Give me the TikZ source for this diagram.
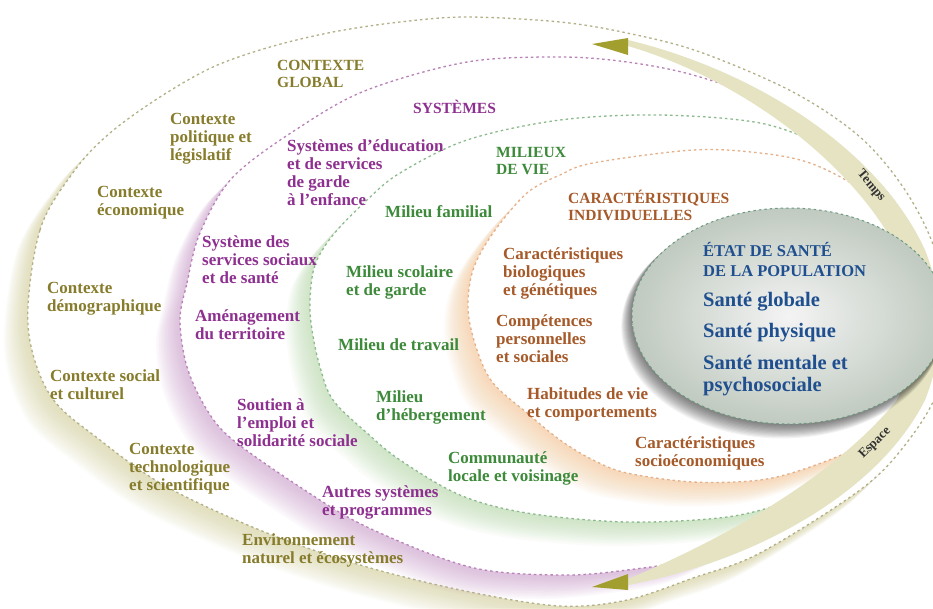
\documentclass[tikz,border=0pt]{standalone}
\usepackage{fontspec}
\setmainfont{Liberation Serif}
\definecolor{olvT}{HTML}{877C2C}
\definecolor{purT}{HTML}{8E3090}
\definecolor{grnT}{HTML}{3D8A3A}
\definecolor{brnT}{HTML}{A65A2A}
\definecolor{bluT}{HTML}{1F4F8F}
\definecolor{olvD}{HTML}{B3B088}
\definecolor{purD}{HTML}{B882B8}
\definecolor{grnD}{HTML}{8CBA8C}
\definecolor{orgD}{HTML}{E4B08A}
\definecolor{olvG}{HTML}{D6D29C}
\definecolor{purG}{HTML}{CFA2CF}
\definecolor{grnG}{HTML}{B8DAAA}
\definecolor{orgG}{HTML}{F7C896}
\definecolor{swc}{HTML}{E5E3C2}
\definecolor{arh}{HTML}{A39F2F}
\definecolor{gryD}{HTML}{6A9A80}
\newcommand\outerP{plot[smooth cycle,tension=0.55] coordinates {(28,325) (40,230) (75,170) (110,133) (160,97) (213,67) (270,47) (333,32) (400,22) (467,17) (560,22) (627,33) (700,52) (793,92) (860,137) (905,190) (935,250) (948,320) (938,390) (905,445) (860,490) (760,553) (693,578) (627,600) (560,606) (470,592) (367,567) (267,533) (167,487) (100,440) (50,395)}}
\newcommand\purP{plot[smooth cycle,tension=0.55] coordinates {(180,320) (187,283) (200,233) (233,177) (300,127) (367,90) (467,62) (560,57) (627,62) (693,75) (760,100) (830,150) (880,215) (905,280) (912,340) (898,400) (860,450) (800,500) (760,525) (693,558) (627,570) (560,575) (470,567) (367,527) (300,487) (233,440) (207,410) (187,367)}}
\newcommand\grnP{plot[smooth cycle,tension=0.55] coordinates {(310,300) (315,265) (333,235) (367,200) (400,173) (467,140) (560,120) (660,115) (760,123) (827,147) (865,170) (900,210) (920,270) (925,340) (905,410) (870,455) (843,478) (793,500) (727,517) (627,522) (527,513) (460,495) (400,460) (367,433) (333,400) (320,367) (312,330)}}
\newcommand\orgP{plot[smooth cycle,tension=0.55] coordinates {(468,310) (473,270) (493,233) (527,193) (560,175) (593,163) (693,150) (760,153) (810,163) (857,187) (895,220) (915,280) (915,350) (895,410) (860,445) (810,467) (760,480) (693,482) (627,473) (593,460) (560,440) (527,413) (493,383) (477,350)}}
\begin{document}
\begin{tikzpicture}[x=1pt,y=-1pt,
  tx/.style={anchor=north west, inner sep=0pt, align=left, font=\bfseries\fontsize{17}{18}\selectfont},
  hd/.style={anchor=north west, inner sep=0pt, align=left, font=\bfseries\fontsize{15.5}{17}\selectfont},
  dsh/.style={line width=1.3pt, dash pattern=on 2.5pt off 3pt},
  glw/.style={opacity=0.055},
  lbl/.style={inner sep=0pt, text=black!80, font=\bfseries\fontsize{13}{13}\selectfont}
]
\useasboundingbox (0,0) rectangle (933,608);
\clip (0,0) rectangle (933,608);
\fill[white] (0,0) rectangle (933,608);
% glows and fills
\foreach \i in {1,...,16} {\fill[olvG, glw, shift={(-1.5*\i,1.5*\i)}] \outerP;}
\fill[white] \outerP;
\foreach \i in {1,...,16} {\fill[purG, glw, shift={(-1.5*\i,1.5*\i)}] \purP;}
\fill[white] \purP;
\foreach \i in {1,...,16} {\fill[grnG, glw, shift={(-1.5*\i,1.5*\i)}] \grnP;}
\fill[white] \grnP;
\foreach \i in {1,...,16} {\fill[orgG, glw, shift={(-1.5*\i,1.5*\i)}] \orgP;}
\fill[white] \orgP;
% dashed contours
\draw[dsh, olvD] \outerP;
\draw[dsh, purD] \purP;
\draw[dsh, grnD] \grnP;
\draw[dsh, orgD] \orgP;
% swoosh
\fill[swc] (628,40) .. controls (760,72) and (880,152) .. (925,250) .. controls (945,300) and (945,350) .. (925,400) .. controls (880,490) and (760,560) .. (628,585) -- (628,579) .. controls (740,532) and (840,470) .. (897,400) .. controls (917,360) and (922,310) .. (902,260) .. controls (862,172) and (750,82) .. (628,46) -- cycle;
\fill[arh] (592,44) -- (628,38) -- (628,55) -- cycle;
\fill[arh] (592,587) -- (628,574) -- (628,590) -- cycle;
\node[lbl, rotate=-50] (temps) at (871,186) {Temps};
\node[lbl, rotate=45] (espace) at (875,443) {Espace};
% health ellipse
\foreach \i in {1,...,12} {\fill[black, opacity=0.05] (789-0.6*\i,316+0.9*\i) ellipse [x radius=157+0.3*\i, y radius=108+0.3*\i];}
\shade[inner color=white!70!gray!30, outer color={rgb,255:red,192;green,202;blue,192}] (789,316) ellipse [x radius=157, y radius=108];
\draw[dsh, gryD, line width=1pt] (789,316) ellipse [x radius=157, y radius=108];
% texts: contexte global
\node[hd, text=olvT] (cg) at (277,60) {CONTEXTE\\GLOBAL};
\node[tx, text=olvT] (c1) at (170,113) {Contexte\\politique et\\législatif};
\node[tx, text=olvT] (c2) at (97,186) {Contexte\\économique};
\node[tx, text=olvT] (c3) at (47,282) {Contexte\\démographique};
\node[tx, text=olvT] (c4) at (50,369) {Contexte social\\et culturel};
\node[tx, text=olvT] (c5) at (129,443) {Contexte\\technologique\\et scientifique};
\node[tx, text=olvT] (c6) at (242,533) {Environnement\\naturel et écosystèmes};
% systemes
\node[hd, text=purT] (sy) at (413,100) {SYSTÈMES};
\node[tx, text=purT] (s1) at (287,139) {Systèmes d’éducation\\et de services\\de garde\\à l’enfance};
\node[tx, text=purT] (s2) at (202,235) {Système des\\services sociaux\\et de santé};
\node[tx, text=purT] (s3) at (195,309) {Aménagement\\du territoire};
\node[tx, text=purT] (s4) at (237,398) {Soutien à\\l’emploi et\\solidarité sociale};
\node[tx, text=purT] (s5) at (322,485) {Autres systèmes\\et programmes};
% milieux de vie
\node[hd, text=grnT] (mv) at (496,147) {MILIEUX\\DE VIE};
\node[tx, text=grnT] (m1) at (385,205) {Milieu familial};
\node[tx, text=grnT] (m2) at (346,265) {Milieu scolaire\\et de garde};
\node[tx, text=grnT] (m3) at (338,338) {Milieu de travail};
\node[tx, text=grnT] (m4) at (376,390) {Milieu\\d’hébergement};
\node[tx, text=grnT] (m5) at (448,451) {Communauté\\locale et voisinage};
% caracteristiques individuelles
\node[hd, text=brnT] (ci) at (568,190) {CARACTÉRISTIQUES\\INDIVIDUELLES};
\node[tx, text=brnT] (i1) at (503,247) {Caractéristiques\\biologiques\\et génétiques};
\node[tx, text=brnT] (i2) at (496,314) {Compétences\\personnelles\\et sociales};
\node[tx, text=brnT] (i3) at (527,387) {Habitudes de vie\\et comportements};
\node[tx, text=brnT] (i4) at (635,436) {Caractéristiques\\socioéconomiques};
% etat de sante
\node[anchor=north west, inner sep=0pt, align=left, text=bluT, font=\bfseries\fontsize{16.5}{20}\selectfont] (es) at (703,242) {ÉTAT DE SANTÉ\\DE LA POPULATION};
\node[anchor=north west, inner sep=0pt, align=left, text=bluT, font=\bfseries\fontsize{20.5}{22}\selectfont] (e1) at (703,292) {Santé globale};
\node[anchor=north west, inner sep=0pt, align=left, text=bluT, font=\bfseries\fontsize{20.5}{22}\selectfont] (e2) at (703,323) {Santé physique};
\node[anchor=north west, inner sep=0pt, align=left, text=bluT, font=\bfseries\fontsize{20.5}{22}\selectfont] (e3) at (703,355) {Santé mentale et\\psychosociale};
\end{tikzpicture}
\end{document}
